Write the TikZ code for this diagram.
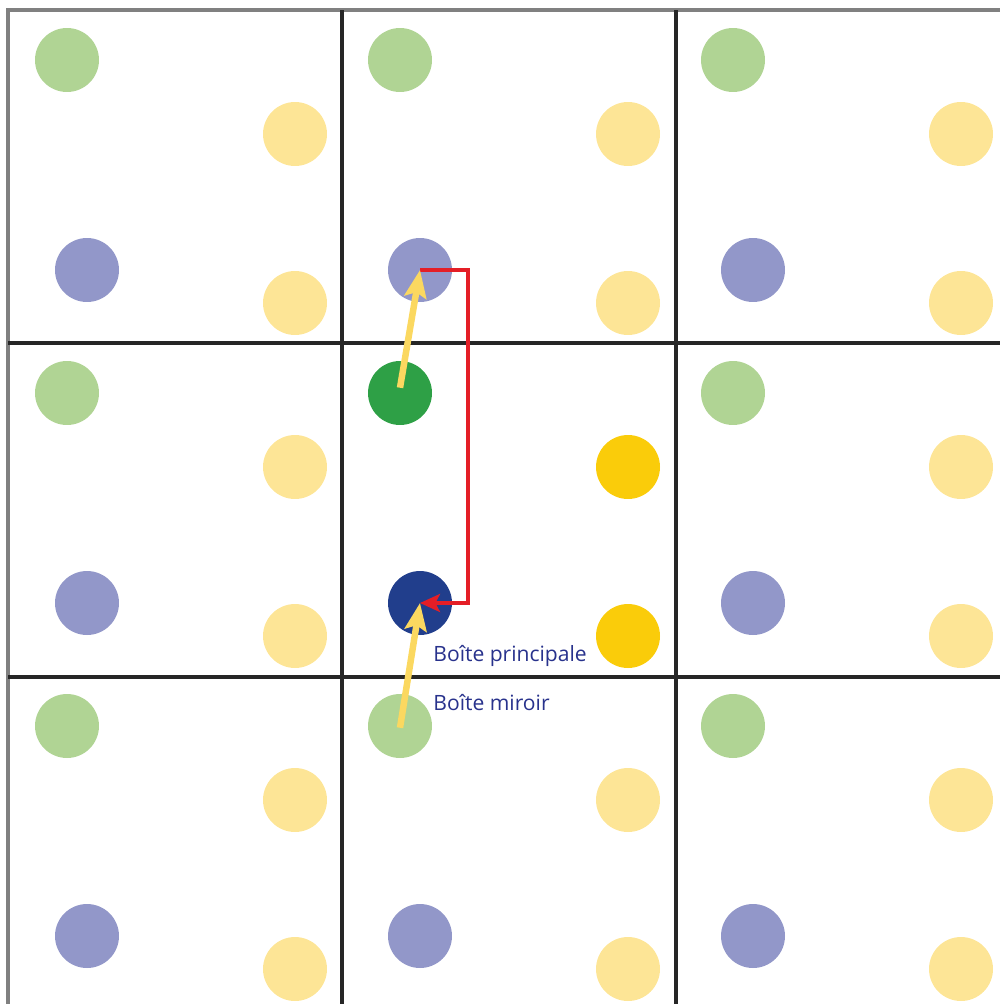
\documentclass[tikz,border=0pt]{standalone}
\usepackage{fontspec}
\setsansfont{Open Sans}
\usetikzlibrary{arrows.meta}

\definecolor{lgreen}{RGB}{176,212,148}
\definecolor{dgreen}{RGB}{46,160,70}
\definecolor{lyellow}{RGB}{253,229,150}
\definecolor{dyellow}{RGB}{250,204,10}
\definecolor{lblue}{RGB}{146,151,201}
\definecolor{dblue}{RGB}{33,62,140}
\definecolor{labelblue}{RGB}{40,50,140}
\definecolor{arrowyellow}{RGB}{251,216,96}
\definecolor{pathred}{RGB}{228,30,38}

\begin{document}
\begin{tikzpicture}[x=0.02cm, y=-0.02cm,
   font=\sffamily,
   dot/.style={circle, inner sep=0pt, minimum size=1.28cm},
   frameline/.style={draw=black!50, line width=0.075cm},
   cellline/.style={draw=black!85, line width=0.065cm},
   hop/.style={-{Stealth[length=0.55cm, width=0.44cm, inset=0.1cm]}, draw=arrowyellow, line width=0.13cm},
   link/.style={-{Stealth[length=0.4cm, width=0.36cm, inset=0.09cm]}, draw=pathred, line width=0.065cm},
   tag/.style={text=labelblue, anchor=west, inner sep=0pt, font=\sffamily\large}]
   \useasboundingbox (0,0) rectangle (1000,1004);
   % frame and cell borders
   \draw[frameline] (8,1004) -- (8,10) -- (1000,10);
   \foreach \x in {342,676}
      \draw[cellline] (\x,10) -- (\x,1004);
   \foreach \y in {343,677}
      \draw[cellline] (8,\y) -- (1000,\y);
   % particles, l = mirror box, d = main box
   \foreach \c/\r/\t in {0/0/l,1/0/l,2/0/l,0/1/l,1/1/d,2/1/l,0/2/l,1/2/l,2/2/l} {
      \pgfmathsetmacro\dx{333*\c}
      \pgfmathsetmacro\dy{333*\r}
      \node[dot, fill=\t green] (g\c\r) at (67+\dx,60+\dy) {};
      \node[dot, fill=\t yellow] (ya\c\r) at (295+\dx,134+\dy) {};
      \node[dot, fill=\t blue] (b\c\r) at (87+\dx,270+\dy) {};
      \node[dot, fill=\t yellow] (yb\c\r) at (295+\dx,303+\dy) {};
   }
   % periodic image links
   \coordinate (turn) at (468,270);
   \draw[link] (b10.center) -- (turn) |- (b11.center);
   \draw[hop] ([yshift=3]g11.center) -- (b10.center);
   \draw[hop] ([yshift=-1]g12.center) -- (b11.center);
   \node[tag] (main) at (433,656) {Boîte principale};
   \node[tag] (mirror) at (433,703) {Boîte miroir};
\end{tikzpicture}
\end{document}
